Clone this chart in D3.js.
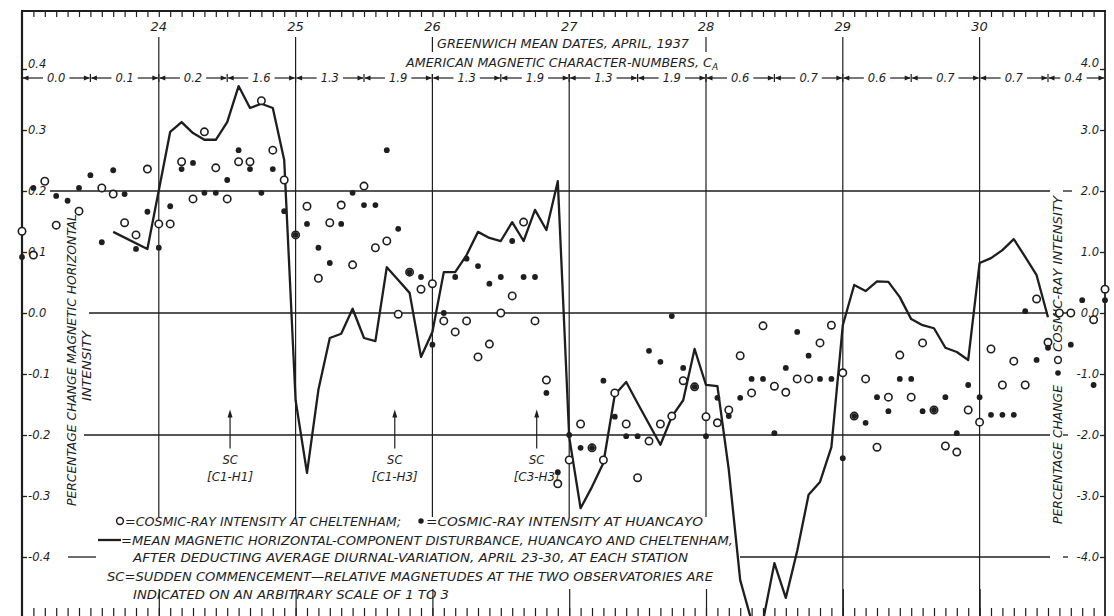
<!DOCTYPE html>
<html>
<head>
<meta charset="utf-8">
<script src="https://cdn.jsdelivr.net/npm/d3@7"></script>
<style>
  body { margin: 0; background: #ffffff; }
  svg { display: block; }
  text { font-family: "DejaVu Sans", "Liberation Sans", sans-serif; font-style: italic; fill: #1e1e1e; }
</style>
</head>
<body>
<svg id="chart" width="1114" height="616"></svg>
<script>
// Cosmic-ray intensity (% change), two-hourly means from 0h GMT, April 23, 1937
const cheltenham = [
  1.34, 0.95, 2.16, 1.44, null, 1.67, null, 2.05, 1.95, 1.48, 1.28, 2.36,            // 23rd
  1.46, 1.46, 2.48, 1.87, 2.97, 2.38, 1.87, 2.48, 2.48, 3.48, 2.67, 2.18,            // 24th
  1.28, 1.75, 0.57, 1.48, 1.77, 0.79, 2.08, 1.07, 1.18, -0.02, 0.67, 0.39,           // 25th
  0.48, -0.13, -0.31, -0.13, -0.72, -0.51, 0.0, 0.28, 1.49, -0.13, -1.10, -2.80,     // 26th
  -2.41, -1.82, -2.21, -2.41, -1.31, -1.82, -2.70, -2.10, -1.82, -1.69, -1.11, -1.21, // 27th
  -1.70, -1.80, -1.59, -0.70, -1.31, -0.21, -1.20, -1.30, -1.08, -1.08, -0.49, -0.20, // 28th
  -0.98, -1.69, -1.08, -2.20, -1.38, -0.69, -1.38, -0.49, -1.59, -2.18, -2.28, -1.59, // 29th
  -1.79, -0.59, -1.18, -0.79, -1.18, 0.23, -0.48, 0.0, 0.0, null, -0.11, 0.39        // 30th
];
const huancayo = [
  0.92, 2.05, null, 1.92, 1.84, 2.05, 2.26, 1.16, 2.34, 1.95, 1.05, 1.66,
  1.07, 1.75, 2.36, 2.46, 1.97, 1.97, 2.18, 2.67, 2.36, 1.97, 2.36, 1.67,
  1.28, 1.46, 1.07, 0.82, 1.46, 1.97, 1.77, 1.77, 2.67, 1.38, 0.67, 0.59,
  -0.52, 0.0, 0.59, 0.89, 0.77, 0.48, 0.59, 1.18, 0.59, 0.59, -1.31, -2.61,
  -2.00, -2.21, -2.21, -1.11, -1.70, -2.02, -2.02, -0.62, -0.80, -0.05, -0.90, -1.21,
  -2.02, -1.39, -1.69, -1.39, -1.08, -1.08, -1.97, -0.90, -0.31, -0.70, -1.08, -1.08,
  -2.38, -1.69, -1.80, -1.38, -1.61, -1.08, -1.08, -1.61, -1.59, -1.38, -1.97, -1.18,
  -1.38, -1.67, -1.67, -1.67, 0.03, -0.77, -0.57, null, -0.52, 0.21, -1.18, 0.21
];
const stepHours = 2;

// Mean magnetic horizontal-component disturbance (% change), hours after 0h April 23
const magneticHours = [
  16, 22, 26, 28, 30, 32, 34, 36, 38, 40, 42, 44, 46,
  48, 50, 52, 54, 56, 58, 60, 62, 64, 66, 68, 70,
  72, 74, 76, 78, 80, 82, 84, 86, 88, 90, 92, 94,
  96, 98, 100, 102, 104, 106, 108, 110, 112, 114, 116, 118,
  120, 122, 124, 126, 128, 130, 132, 134, 136, 138, 140, 142,
  144, 146, 148, 150, 152, 154, 156, 158, 160, 162, 164, 166,
  168, 170, 172, 174, 176, 178, 180
];
const magneticValues = [
  0.133, 0.105, 0.297, 0.313, 0.295, 0.284, 0.284, 0.313, 0.372, 0.336, 0.343, 0.336, 0.251,
  -0.143, -0.262, -0.126, -0.041, -0.034, 0.007, -0.041, -0.046, 0.075, 0.054, 0.033, -0.072,
  -0.031, 0.067, 0.067, 0.095, 0.133, 0.123, 0.118, 0.149, 0.118, 0.169, 0.136, 0.216,
  -0.203, -0.320, -0.285, -0.246, -0.134, -0.113, -0.148, -0.182, -0.216, -0.170, -0.143, -0.059,
  -0.118, -0.120, -0.257, -0.438, -0.505, -0.505, -0.410, -0.467, -0.390, -0.298, -0.277, -0.220,
  -0.020, 0.046, 0.036, 0.052, 0.051, 0.026, -0.010, -0.020, -0.025, -0.057, -0.064, -0.077,
  0.082, 0.090, 0.103, 0.121, 0.092, 0.062, -0.007
];

// American magnetic character-numbers, half-day periods
const characterNumbers = ["0.0", "0.1", "0.2", "1.6", "1.3", "1.9", "1.3", "1.9",
                          "1.3", "1.9", "0.6", "0.7", "0.6", "0.7", "0.7", "0.4"];
const dayLabels = [24, 25, 26, 27, 28, 29, 30];
const leftTicks = [0.4, 0.3, 0.2, 0.1, 0.0, -0.1, -0.2, -0.3, -0.4];
const rightTicks = [4.0, 3.0, 2.0, 1.0, 0.0, -1.0, -2.0, -3.0, -4.0];

// Sudden commencements (hours after 0h April 23)
const scHours = [36.5, 65.4, 90.3];
const scLabels = ["[C1-H1]", "[C1-H3]", "[C3-H3]"];

const legendLines = [
  "=COSMIC-RAY INTENSITY AT CHELTENHAM;",
  "=COSMIC-RAY INTENSITY AT HUANCAYO",
  "=MEAN MAGNETIC HORIZONTAL-COMPONENT DISTURBANCE, HUANCAYO AND CHELTENHAM,",
  "AFTER DEDUCTING AVERAGE DIURNAL-VARIATION, APRIL 23-30, AT EACH STATION",
  "SC=SUDDEN COMMENCEMENT\u2014RELATIVE MAGNETUDES AT THE TWO OBSERVATORIES ARE",
  "INDICATED ON AN ARBITRARY SCALE OF 1 TO 3"
];

(function draw() {
  const ink = "#1e1e1e";
  const svg = d3.select("#chart");
  const frameL = 22, frameR = 1105, frameT = 11, frameB = 616;

  const x = d3.scaleLinear().domain([0, 190]).range([frameL, frameR]);
  const yMag = d3.scaleLinear().domain([-0.4, 0.4]).range([557, 69]);
  const yCos = d3.scaleLinear().domain([-4, 4]).range([557, 69]);
  const dayHour = d => (d - 23) * 24;
  const fmt = v => d3.format(".1f")(v).replace("\u2212", "-");

  svg.append("rect").attr("width", 1114).attr("height", 616).attr("fill", "#ffffff");
  const g = svg.append("g");

  function hline(y, x1, x2, w) {
    g.append("line").attr("x1", x1).attr("x2", x2).attr("y1", y).attr("y2", y)
      .attr("stroke", ink).attr("stroke-width", w || 1.3);
  }
  function vline(xp, y1, y2, w) {
    g.append("line").attr("x1", xp).attr("x2", xp).attr("y1", y1).attr("y2", y2)
      .attr("stroke", ink).attr("stroke-width", w || 1.2);
  }

  // frame
  hline(frameT, frameL - 1, frameR + 1, 2.2);
  vline(frameL, frameT, frameB, 2.2);
  vline(frameR, frameT, frameB, 1.8);

  // two-hour tick marks, top and bottom
  const tickHours = d3.range(2, 190, 2);
  g.append("g").attr("transform", `translate(0,${frameT})`)
    .call(d3.axisBottom(x).tickValues(tickHours).tickSize(6).tickFormat(""))
    .call(a => a.select(".domain").remove())
    .call(a => a.selectAll("line").attr("stroke", ink).attr("stroke-width", 1.2));
  g.append("g").attr("transform", `translate(0,${frameB})`)
    .call(d3.axisTop(x).tickValues(tickHours).tickSize(8).tickFormat(""))
    .call(a => a.select(".domain").remove())
    .call(a => a.selectAll("line").attr("stroke", ink).attr("stroke-width", 1.2));
  g.append("g").attr("transform", `translate(0,${frameB})`)
    .call(d3.axisTop(x).tickValues(dayLabels.map(dayHour)).tickSize(27).tickFormat(""))
    .call(a => a.select(".domain").remove())
    .call(a => a.selectAll("line").attr("stroke", ink).attr("stroke-width", 1.2));

  // day labels and day lines
  const rowY = 78;
  dayLabels.forEach(d => {
    const xp = x(dayHour(d));
    g.append("text").attr("x", xp).attr("y", 31).attr("text-anchor", "middle")
      .attr("font-size", 13).text(d);
    if (d === 24 || d === 25) vline(xp, 37, 517);
    else if (d === 26 || d === 28) { vline(xp, 37, 52); vline(xp, rowY - 4, 517); }
    else if (d === 27) vline(xp, rowY - 4, 517);
    else vline(xp, 37, frameB);
  });

  // horizontal reference lines
  hline(yMag(0.2), 50, 1050);
  hline(yMag(0.2), 1063, 1072);
  hline(yMag(0), 89, 1048, 1.5);
  hline(yMag(0), 1058, 1072, 1.5);
  hline(yMag(-0.2), 84, 1050);
  hline(yMag(-0.2), 1063, 1068);
  hline(yMag(-0.4), 68, 96);
  hline(yMag(-0.4), 740, 1050);
  hline(yMag(-0.4), 1063, 1068);

  // header texts
  g.append("text").attr("x", 437).attr("y", 48).attr("font-size", 12.5)
    .attr("textLength", 252).attr("lengthAdjust", "spacingAndGlyphs")
    .text("GREENWICH MEAN DATES, APRIL, 1937");
  const amer = g.append("text").attr("x", 406).attr("y", 67).attr("font-size", 12.5);
  amer.append("tspan").attr("textLength", 306).attr("lengthAdjust", "spacingAndGlyphs")
    .text("AMERICAN MAGNETIC CHARACTER-NUMBERS, C");
  amer.append("tspan").attr("font-size", 9).attr("dy", 3).text("A");

  // character-number row
  const bounds = d3.range(0, characterNumbers.length + 1).map(k => Math.min(k * 12, 190));
  characterNumbers.forEach((c, k) => {
    const a = x(bounds[k]), b = x(bounds[k + 1]);
    const mid = k === characterNumbers.length - 1 ? (a + b) / 2 - 3 : (a + b) / 2;
    const t = g.append("text").attr("x", mid).attr("y", rowY + 4).attr("text-anchor", "middle")
      .attr("font-size", 11.5).text(c);
    const w = t.node().getComputedTextLength();
    hline(rowY, a + 1, mid - w / 2 - 4, 1.2);
    hline(rowY, mid + w / 2 + 4, b - 1, 1.2);
    g.append("path").attr("d", `M${a + 0.5},${rowY} l6,-2.6 l0,5.2 z`).attr("fill", ink);
    g.append("path").attr("d", `M${b - 0.5},${rowY} l-6,-2.6 l0,5.2 z`).attr("fill", ink);
  });
  bounds.slice(1, -1).forEach(h => vline(x(h), rowY - 4, rowY + 4, 1.2));

  // left and right value axes
  g.append("g").attr("transform", `translate(${frameL},0)`)
    .call(d3.axisRight(yMag).tickValues(leftTicks).tickSize(5).tickPadding(1).tickFormat(fmt))
    .call(a => a.select(".domain").remove())
    .call(a => a.selectAll("line").attr("stroke", ink).attr("stroke-width", 1.3))
    .call(a => a.selectAll("text").attr("font-size", 11.5).attr("font-family", null).attr("fill", ink))
    .call(a => a.selectAll("text").filter(d => d === 0.4).attr("dy", "-0.1em"));
  g.append("g").attr("transform", `translate(${frameR},0)`)
    .call(d3.axisLeft(yCos).tickValues(rightTicks).tickSize(5).tickPadding(1).tickFormat(fmt))
    .call(a => a.select(".domain").remove())
    .call(a => a.selectAll("line").attr("stroke", ink).attr("stroke-width", 1.3))
    .call(a => a.selectAll("text").attr("font-size", 11.5).attr("font-family", null).attr("fill", ink))
    .call(a => a.selectAll("text").filter(d => d === 4).attr("dy", "-0.25em"));

  // axis titles
  g.append("text").attr("transform", "translate(76,506) rotate(-90)").attr("font-size", 12.5)
    .attr("textLength", 292).attr("lengthAdjust", "spacingAndGlyphs")
    .text("PERCENTAGE CHANGE MAGNETIC HORIZONTAL");
  g.append("text").attr("transform", "translate(91,401) rotate(-90)").attr("font-size", 12.5)
    .attr("textLength", 70).attr("lengthAdjust", "spacingAndGlyphs")
    .text("INTENSITY");
  g.append("text").attr("transform", "translate(1062,524) rotate(-90)").attr("font-size", 12.5)
    .attr("textLength", 139).attr("lengthAdjust", "spacingAndGlyphs")
    .text("PERCENTAGE CHANGE");
  g.append("text").attr("transform", "translate(1062,352) rotate(-90)").attr("font-size", 12.5)
    .attr("textLength", 156).attr("lengthAdjust", "spacingAndGlyphs")
    .text("COSMIC-RAY INTENSITY");
  g.append("circle").attr("cx", 1058).attr("cy", 373).attr("r", 2.8).attr("fill", ink);
  g.append("circle").attr("cx", 1058).attr("cy", 360).attr("r", 3.4)
    .attr("fill", "#fff").attr("stroke", ink).attr("stroke-width", 1.5);

  // sudden-commencement markers
  scHours.forEach((h, k) => {
    const xp = x(h);
    g.append("line").attr("x1", xp).attr("x2", xp).attr("y1", yMag(-0.222)).attr("y2", yMag(-0.165))
      .attr("stroke", ink).attr("stroke-width", 1.2);
    g.append("path").attr("d", `M${xp},${yMag(-0.158)} l-2.5,8 l5,0 z`).attr("fill", ink);
    g.append("text").attr("x", xp).attr("y", 464).attr("text-anchor", "middle").attr("font-size", 11.5).text("SC");
    g.append("text").attr("x", xp).attr("y", 481).attr("text-anchor", "middle").attr("font-size", 11.5)
      .attr("textLength", 46).attr("lengthAdjust", "spacingAndGlyphs").text(scLabels[k]);
  });

  // magnetic disturbance curve
  const magLine = d3.line().x(d => x(d[0])).y(d => yMag(d[1]));
  g.append("path").datum(d3.zip(magneticHours, magneticValues))
    .attr("d", magLine).attr("fill", "none").attr("stroke", ink)
    .attr("stroke-width", 2.3).attr("stroke-linejoin", "round");

  // cosmic-ray points
  const pts = arr => arr.map((v, i) => [i * stepHours, v]).filter(d => d[1] !== null);
  g.append("g").selectAll("circle").data(pts(cheltenham)).join("circle")
    .attr("cx", d => x(d[0])).attr("cy", d => yCos(d[1])).attr("r", 3.7)
    .attr("fill", "#fff").attr("stroke", ink).attr("stroke-width", 1.6);
  g.append("g").selectAll("circle").data(pts(huancayo)).join("circle")
    .attr("cx", d => x(d[0])).attr("cy", d => yCos(d[1])).attr("r", 2.9)
    .attr("fill", ink);

  // legend
  const lg = g.append("g");
  lg.append("circle").attr("cx", 120).attr("cy", 521).attr("r", 3.4)
    .attr("fill", "#fff").attr("stroke", ink).attr("stroke-width", 1.5);
  lg.append("text").attr("x", 125).attr("y", 526).attr("font-size", 13)
    .attr("textLength", 276).attr("lengthAdjust", "spacingAndGlyphs").text(legendLines[0]);
  lg.append("circle").attr("cx", 421).attr("cy", 521).attr("r", 2.7).attr("fill", ink);
  lg.append("text").attr("x", 426).attr("y", 526).attr("font-size", 13)
    .attr("textLength", 277).attr("lengthAdjust", "spacingAndGlyphs").text(legendLines[1]);
  lg.append("line").attr("x1", 98).attr("x2", 121).attr("y1", 540).attr("y2", 540)
    .attr("stroke", ink).attr("stroke-width", 2.3);
  lg.append("text").attr("x", 121).attr("y", 545).attr("font-size", 13)
    .attr("textLength", 612).attr("lengthAdjust", "spacingAndGlyphs").text(legendLines[2]);
  lg.append("text").attr("x", 133).attr("y", 562).attr("font-size", 13)
    .attr("textLength", 555).attr("lengthAdjust", "spacingAndGlyphs").text(legendLines[3]);
  lg.append("text").attr("x", 107).attr("y", 581).attr("font-size", 13)
    .attr("textLength", 606).attr("lengthAdjust", "spacingAndGlyphs").text(legendLines[4]);
  lg.append("text").attr("x", 133).attr("y", 599).attr("font-size", 13)
    .attr("textLength", 316).attr("lengthAdjust", "spacingAndGlyphs").text(legendLines[5]);
})();
</script>
</body>
</html>
